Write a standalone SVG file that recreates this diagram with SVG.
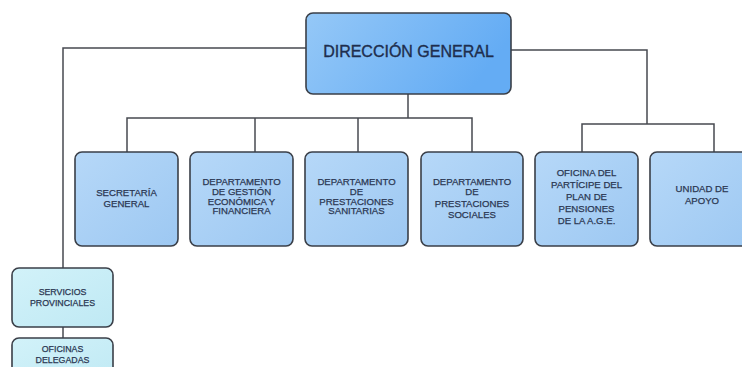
<svg xmlns="http://www.w3.org/2000/svg" width="742" height="367" viewBox="0 0 742 367">
<defs>
<linearGradient id="gMain" x1="0" y1="0" x2="1" y2="0.3">
<stop offset="0" stop-color="#95c8f7"/>
<stop offset="1" stop-color="#64acf4"/>
</linearGradient>
<linearGradient id="gSub" x1="0" y1="0" x2="1" y2="1">
<stop offset="0" stop-color="#b6d8f8"/>
<stop offset="1" stop-color="#9dc8f2"/>
</linearGradient>
<linearGradient id="gProv" x1="0" y1="0" x2="1" y2="1">
<stop offset="0" stop-color="#d2f2f9"/>
<stop offset="1" stop-color="#bfe9f4"/>
</linearGradient>
</defs>
<style>
.box{stroke:#3a3f48;stroke-width:1.6}
.main{fill:url(#gMain)}
.sub{fill:url(#gSub)}
.prov{fill:url(#gProv)}
.conn{fill:none;stroke:#474a50;stroke-width:1.5}
text{font-family:"Liberation Sans",Arial,sans-serif;fill:#2b3752;stroke:#2b3752;stroke-width:0.25;text-anchor:middle}
.t1{font-size:16px;fill:#1e2d4d;stroke:#1e2d4d;stroke-width:0.35}
.t2{font-size:9.6px}
.t3{font-size:8.8px}
</style>
<rect width="742" height="367" fill="#ffffff"/>
<g id="connectors">
<polyline class="conn" points="306,48 63,48 63,268"/>
<line class="conn" x1="63" y1="327" x2="63" y2="338"/>
<polyline class="conn" points="511,50 647,50 647,124"/>
<polyline class="conn" points="582,152 582,124 714,124 714,152"/>
<line class="conn" x1="408" y1="94" x2="408" y2="118"/>
<polyline class="conn" points="127,152 127,118 472,118 472,152"/>
<line class="conn" x1="255" y1="118" x2="255" y2="152"/>
<line class="conn" x1="358" y1="118" x2="358" y2="152"/>
</g>
<g id="direccion-general">
<rect class="box main" x="306" y="13" width="205" height="81" rx="7"/>
<text class="t1" x="408.5" y="57">DIRECCIÓN GENERAL</text>
</g>
<g id="secretaria-general">
<rect class="box sub" x="75" y="152" width="103" height="94" rx="7"/>
<text class="t2" x="126.5" y="195.5">SECRETARÍA</text>
<text class="t2" x="126.5" y="206.5">GENERAL</text>
</g>
<g id="dep-gestion">
<rect class="box sub" x="190" y="152" width="103" height="94" rx="7"/>
<text class="t2" x="241.5" y="184.5">DEPARTAMENTO</text>
<text class="t2" x="241.5" y="194.5">DE GESTIÓN</text>
<text class="t2" x="241.5" y="204.5">ECONÓMICA Y</text>
<text class="t2" x="241.5" y="214">FINANCIERA</text>
</g>
<g id="dep-sanitarias">
<rect class="box sub" x="305" y="152" width="103" height="94" rx="7"/>
<text class="t2" x="356.5" y="184.5">DEPARTAMENTO</text>
<text class="t2" x="356.5" y="194.5">DE</text>
<text class="t2" x="356.5" y="204.5">PRESTACIONES</text>
<text class="t2" x="356.5" y="214">SANITARIAS</text>
</g>
<g id="dep-sociales">
<rect class="box sub" x="421" y="152" width="102" height="94" rx="7"/>
<text class="t2" x="472" y="184.5">DEPARTAMENTO</text>
<text class="t2" x="472" y="194.5">DE</text>
<text class="t2" x="472" y="207">PRESTACIONES</text>
<text class="t2" x="472" y="218">SOCIALES</text>
</g>
<g id="oficina-participe">
<rect class="box sub" x="535" y="152" width="103" height="94" rx="7"/>
<text class="t2" x="586.5" y="176">OFICINA DEL</text>
<text class="t2" x="586.5" y="188">PARTÍCIPE DEL</text>
<text class="t2" x="586.5" y="200">PLAN DE</text>
<text class="t2" x="586.5" y="212">PENSIONES</text>
<text class="t2" x="586.5" y="224">DE LA A.G.E.</text>
</g>
<g id="unidad-apoyo">
<rect class="box sub" x="650" y="152" width="104" height="94" rx="7"/>
<text class="t2" x="702" y="191.5">UNIDAD DE</text>
<text class="t2" x="702" y="203.5">APOYO</text>
</g>
<g id="servicios-provinciales">
<rect class="box prov" x="12" y="268" width="101" height="59" rx="7"/>
<text class="t3" x="62.5" y="295">SERVICIOS</text>
<text class="t3" x="62.5" y="306">PROVINCIALES</text>
</g>
<g id="oficinas-delegadas">
<rect class="box prov" x="12" y="338" width="101" height="50" rx="7"/>
<text class="t3" x="62.5" y="352">OFICINAS</text>
<text class="t3" x="62.5" y="363">DELEGADAS</text>
</g>
</svg>
